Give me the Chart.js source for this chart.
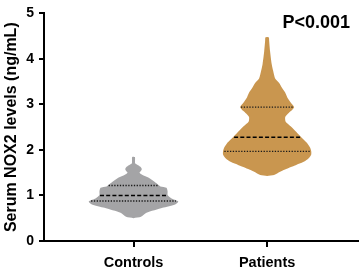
<!DOCTYPE html>
<html><head><meta charset="utf-8">
<script src="https://cdn.jsdelivr.net/npm/chart.js@4.4.1/dist/chart.umd.min.js"></script>
<style>html,body{margin:0;padding:0;background:#fff;}#wrap{width:360px;height:268px;position:relative;}</style>
</head><body><div id="wrap"><canvas id="c"></canvas></div>
<script>
const categories = ['Controls', 'Patients'];
const yTicks = [0, 1, 2, 3, 4, 5];
const yTitle = 'Serum NOX2 levels (ng/mL)';
const pValueText = 'P<0.001';

// violin outlines: level (ng/mL) and half-width (in category units)
const controlsLevels    = [0.50, 0.53, 0.62, 0.73, 0.81, 0.87, 0.94, 1.01, 1.09, 1.17, 1.20, 1.23, 1.30, 1.38, 1.44, 1.50, 1.55, 1.58, 1.63, 1.67, 1.70, 1.73, 1.84, 1.85];
const controlsHalfWidth = [0.000, 0.056, 0.097, 0.217, 0.315, 0.335, 0.281, 0.255, 0.255, 0.247, 0.202, 0.187, 0.157, 0.120, 0.075, 0.045, 0.058, 0.062, 0.052, 0.030, 0.013, 0.011, 0.011, 0.000];
const patientsLevels    = [1.43, 1.45, 1.47, 1.53, 1.58, 1.64, 1.69, 1.76, 1.83, 1.90, 1.97, 2.05, 2.15, 2.28, 2.40, 2.51, 2.62, 2.72, 2.80, 2.86, 2.94, 3.06, 3.16, 3.26, 3.36, 3.47, 3.57, 3.74, 3.89, 4.17, 4.40, 4.47, 4.48];
const patientsHalfWidth = [0.000, 0.052, 0.067, 0.105, 0.142, 0.195, 0.232, 0.285, 0.315, 0.330, 0.330, 0.322, 0.300, 0.255, 0.217, 0.180, 0.139, 0.135, 0.157, 0.180, 0.202, 0.172, 0.150, 0.135, 0.112, 0.090, 0.060, 0.045, 0.034, 0.022, 0.015, 0.013, 0.000];
// quartiles [Q1, median, Q3]
const controlsQuartiles = [0.88, 1.00, 1.22];
const patientsQuartiles = [1.97, 2.28, 2.94];

const violins = [
  {center: 0, levels: controlsLevels, hw: controlsHalfWidth, q: controlsQuartiles, color: '#a4a4a6'},
  {center: 1, levels: patientsLevels, hw: patientsHalfWidth, q: patientsQuartiles, color: '#c9964f'}
];

function outline(v) {
  const pts = [];
  for (let i = 0; i < v.levels.length; i++) pts.push({x: v.center + v.hw[i], y: v.levels[i]});
  for (let i = v.levels.length - 1; i >= 0; i--) pts.push({x: v.center - v.hw[i], y: v.levels[i]});
  return pts;
}
function widthAt(v, y) {
  for (let i = 0; i < v.levels.length - 1; i++) {
    if (y >= v.levels[i] && y <= v.levels[i + 1]) {
      const t = (y - v.levels[i]) / (v.levels[i + 1] - v.levels[i]);
      return v.hw[i] + t * (v.hw[i + 1] - v.hw[i]);
    }
  }
  return 0;
}

const datasets = [];
violins.forEach(v => {
  v.q.forEach((q, k) => {
    const w = widthAt(v, q) * 0.97;
    const median = k === 1;
    datasets.push({
      data: [{x: v.center - w, y: q}, {x: v.center + w, y: q}],
      borderColor: median ? '#000' : '#1a1a1a',
      borderWidth: median ? 1.6 : 1.4,
      borderDash: median ? [4, 2.2] : [1.3, 1.5],
      pointRadius: 0, fill: false, order: 0
    });
  });
  datasets.push({
    data: outline(v),
    backgroundColor: v.color,
    borderColor: 'rgba(0,0,0,0)',
    borderWidth: 0,
    pointRadius: 0,
    tension: 0.2,
    fill: 'shape',
    order: 1
  });
});

const FONT = 'Liberation Sans, Arial, sans-serif';

const pLabel = {
  id: 'pLabel',
  afterDraw(chart) {
    const {ctx, chartArea} = chart;
    const y = chart.scales.y.getPixelForValue(4.79);
    ctx.save();
    ctx.font = 'bold 18px ' + FONT;
    ctx.fillStyle = '#000';
    ctx.textAlign = 'right';
    ctx.textBaseline = 'middle';
    ctx.fillText(pValueText, chartArea.right - 8, y);
    ctx.restore();
  }
};

new Chart(document.getElementById('c'), {
  type: 'line',
  data: {datasets},
  options: {
    responsive: true, maintainAspectRatio: false, animation: false,
    layout: {padding: {top: 6, right: 2, left: 0, bottom: 0}},
    plugins: {legend: {display: false}, tooltip: {enabled: false}},
    scales: {
      x: {
        type: 'linear', min: -0.67, max: 1.68,
        afterBuildTicks: s => { s.ticks = [{value: 0}, {value: 1}]; },
        afterFit: s => { s.height = 27; },
        ticks: {
          autoSkip: false, maxRotation: 0, padding: 7, color: '#000',
          font: {family: FONT, size: 14.5, weight: 'bold'},
          callback: v => categories[Math.round(v)]
        },
        grid: {drawOnChartArea: false, drawTicks: true, tickLength: 6, color: '#000', lineWidth: 2},
        border: {display: true, color: '#000', width: 2}
      },
      y: {
        type: 'linear', min: yTicks[0], max: yTicks[yTicks.length - 1],
        afterBuildTicks: s => { s.ticks = yTicks.map(v => ({value: v})); },
        afterFit: s => { s.width = 44; },
        ticks: {padding: 5, color: '#000', font: {family: FONT, size: 14, weight: 'bold'}},
        grid: {drawOnChartArea: false, drawTicks: true, tickLength: 5, color: '#000', lineWidth: 2},
        border: {display: true, color: '#000', width: 2},
        title: {display: true, text: yTitle, color: '#000', padding: {top: 1.5, bottom: 0},
          font: {family: FONT, size: 16, weight: 'bold'}}
      }
    }
  },
  plugins: [pLabel]
});
</script></body></html>
